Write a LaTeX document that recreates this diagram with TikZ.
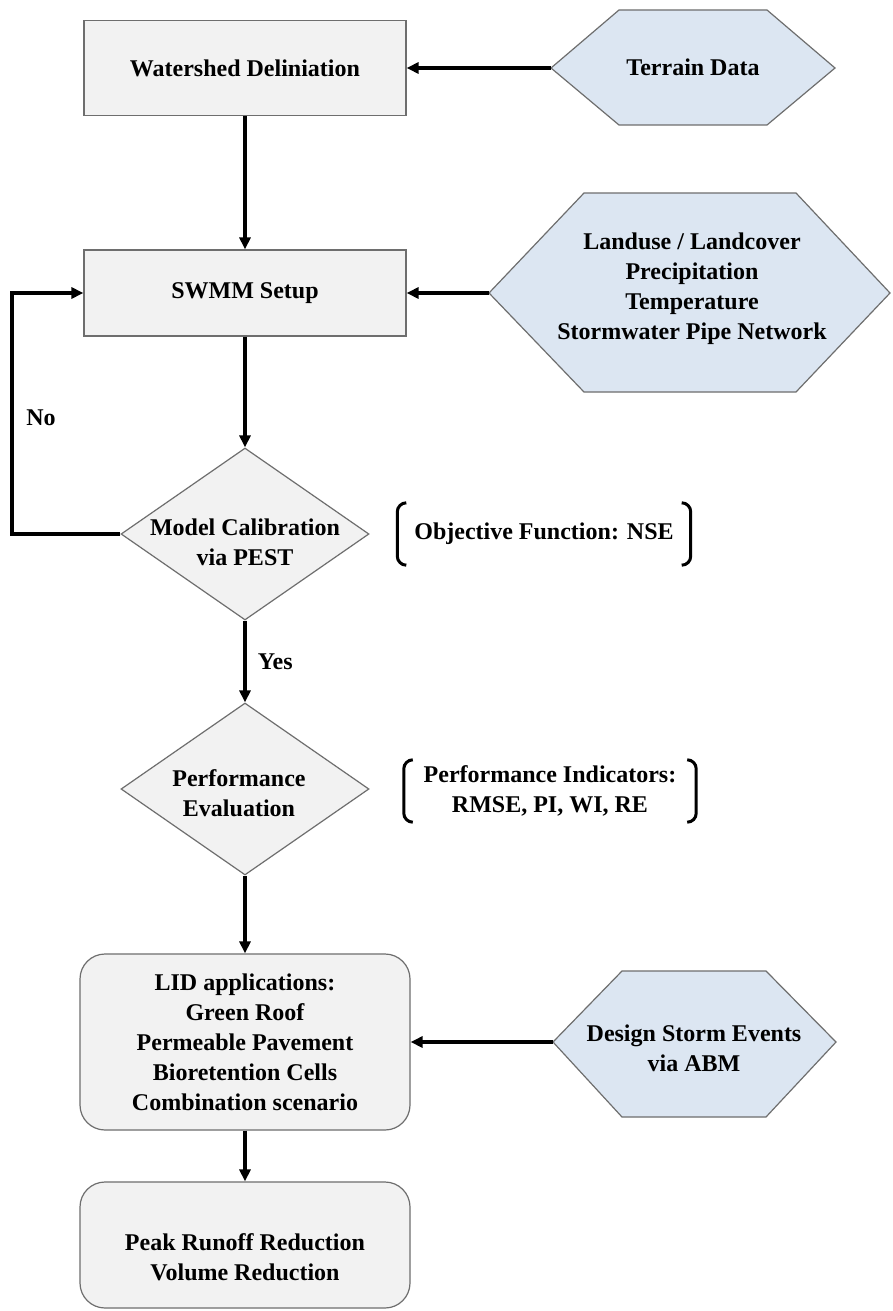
\documentclass[tikz,border=0pt]{standalone}
\usepackage{fontspec}
\setmainfont{Liberation Serif}
\usepackage{tikz}
\usetikzlibrary{positioning, shapes.geometric, arrows.meta}

\definecolor{boxgray}{HTML}{F2F2F2}
\definecolor{hexblue}{HTML}{DCE6F2}
\definecolor{edgegray}{HTML}{6E6E6E}

\begin{document}
\begin{tikzpicture}[x=1pt, y=-1pt,
    txt/.style={font=\fontsize{24}{30}\selectfont\bfseries, align=center},
    box/.style={txt, rectangle, draw=edgegray, line width=1.2pt, fill=boxgray, minimum width=322pt},
    roundbox/.style={box, rounded corners=25pt, minimum width=330pt},
    decision/.style={diamond, draw=edgegray, line width=1.2pt, fill=boxgray, minimum width=248pt, minimum height=172pt, inner sep=0pt},
    hexa/.style={draw=edgegray, line width=1.2pt, fill=hexblue},
    arr/.style={line width=3.2pt, -{Triangle[length=12pt,width=11pt]}},
    brk/.style={line width=3pt, rounded corners=9pt},
  ]

    \fill[white] (0,0) rectangle (892,1311);
    \useasboundingbox (0,0) rectangle (892,1311);

    % main column
    \node[box, minimum height=95pt] (shed) at (245,68) {Watershed Deliniation};
    \node[box, minimum height=86pt] (swmm) at (245,293) {SWMM Setup};
    \node[decision, label={[txt, yshift=-8pt]center:Model Calibration\\via PEST}] (calib) at (245,534) {};
    \node[decision, label={[txt, xshift=-6pt, yshift=-4pt]center:Performance\\Evaluation}] (eval) at (245,789) {};
    \node[roundbox, minimum height=176pt] (lid) at (245,1042)
        {LID applications:\\Green Roof\\Permeable Pavement\\Bioretention Cells\\Combination scenario};
    \node[roundbox, minimum height=126pt, label={[txt, yshift=-12pt]center:Peak Runoff Reduction\\Volume Reduction}] (peak) at (245,1245) {};

    % input data
    \path[hexa] (551,68) coordinate (terrainL) -- (619,10) -- (767,10) -- (835,68) -- (767,125) -- (619,125) -- cycle;
    \node[txt] (terrain) at (693,67) {Terrain Data};

    \path[hexa] (489,293) coordinate (landuseL) -- (584,193) -- (796,193) -- (890,293) -- (796,392) -- (584,392) -- cycle;
    \node[txt] (landuse) at (692,289) {Landuse / Landcover\\Precipitation\\Temperature\\Stormwater Pipe Network};

    \path[hexa] (553,1042) coordinate (designL) -- (622,971) -- (766,971) -- (836,1042) -- (766,1117) -- (622,1117) -- cycle;
    \node[txt] (design) at (694,1048) {Design Storm Events\\via ABM};

    % side notes in brackets
    \node[txt, minimum width=293pt, minimum height=62pt] (nse) at (544,534) {Objective Function: NSE};
    \node[txt, minimum width=292pt, minimum height=62pt] (ind) at (550,791) {Performance Indicators:\\RMSE, PI, WI, RE};
    \foreach \b in {nse, ind} {
        \draw[brk] ([xshift=9pt]\b.north west) -- (\b.north west) -- (\b.south west) -- ([xshift=9pt]\b.south west);
        \draw[brk] ([xshift=-9pt]\b.north east) -- (\b.north east) -- (\b.south east) -- ([xshift=-9pt]\b.south east);
    }

    % arrows
    \draw[arr] (terrainL) -- (shed);
    \draw[arr] (landuseL) -- (swmm);
    \draw[arr] (designL) -- (lid);
    \draw[arr] (shed) -- (swmm);
    \draw[arr] (swmm) -- (calib);
    \draw[arr] (calib) -- node[txt, right=8pt] (yes) {Yes} (eval);
    \draw[arr] (eval) -- (lid);
    \draw[arr] (lid) -- (peak);

    % back loop
    \coordinate (loop) at (12,534);
    \draw[arr, line width=3.8pt] (calib.west) -- (loop) |- (swmm.west);
    \node[txt] (no) at (41,418) {No};

\end{tikzpicture}
\end{document}
